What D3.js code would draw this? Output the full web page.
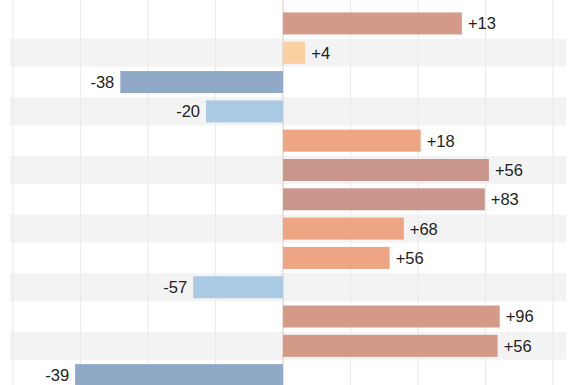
<!DOCTYPE html>
<html>
<head>
<meta charset="utf-8">
<script src="https://cdn.jsdelivr.net/npm/d3@7"></script>
<style>
html,body{margin:0;padding:0;background:#fff;}
svg{display:block;}
</style>
</head>
<body>
<svg id="chart" width="568" height="385"></svg>
<script>
// Data
const rows = [0,1,2,3,4,5,6,7,8,9,10,11,12];
const barValues = [26.5, 3.3, -24.1, -11.4, 20.4, 30.5, 29.9, 17.9, 15.8, -13.3, 32.1, 31.8, -30.8];
const labels = ["+13","+4","-38","-20","+18","+56","+83","+68","+56","-57","+96","+56","-39"];
const colorGroups = ["darkRed","pale","darkBlue","lightBlue","orange","brown","brown","orange","orange","lightBlue","darkRed","darkRed","darkBlue"];
const gridTicks = [-40,-30,-20,-10,0,10,20,30,40];

const palette = {
  darkRed: "#d39a88",
  brown: "#c9968b",
  orange: "#eea583",
  pale: "#f8d0a2",
  darkBlue: "#8fa9c7",
  lightBlue: "#aac9e2"
};

const W = 568, H = 385;
const svg = d3.select("#chart");

const x = d3.scaleLinear().domain([-40, 40]).range([13, 553]);
const y = d3.scaleBand().domain(rows).range([8.8, 389.8]).paddingInner(0).paddingOuter(0);
const step = y.bandwidth();

// stripes
svg.append("g").selectAll("rect")
  .data(rows.filter(r => r % 2 === 1))
  .join("rect")
  .attr("x", 10)
  .attr("width", 556)
  .attr("y", r => y(r) + step/2 - 14)
  .attr("height", 28)
  .attr("fill", "#f3f3f3");

// gridlines
svg.append("g").selectAll("line")
  .data(gridTicks.filter(t => t !== 0))
  .join("line")
  .attr("x1", d => x(d)).attr("x2", d => x(d))
  .attr("y1", 0).attr("y2", H)
  .attr("stroke", "#ebebeb")
  .attr("stroke-width", 1.2);

// zero line
svg.append("line")
  .attr("x1", x(0)).attr("x2", x(0))
  .attr("y1", 0).attr("y2", H)
  .attr("stroke", "#e2c6bc")
  .attr("stroke-width", 1);

// bars
const barH = 22;
svg.append("g").selectAll("rect")
  .data(rows)
  .join("rect")
  .attr("x", i => x(Math.min(0, barValues[i])))
  .attr("width", i => Math.abs(x(barValues[i]) - x(0)))
  .attr("y", i => y(i) + step/2 - barH/2)
  .attr("height", barH)
  .attr("fill", i => palette[colorGroups[i]]);

// labels
svg.append("g").selectAll("text")
  .data(rows)
  .join("text")
  .attr("x", i => barValues[i] >= 0 ? x(barValues[i]) + 6 : x(barValues[i]) - 6)
  .attr("y", i => y(i) + step/2)
  .attr("dy", "0.36em")
  .attr("text-anchor", i => barValues[i] >= 0 ? "start" : "end")
  .attr("font-family", "'Liberation Sans', Arial, sans-serif")
  .attr("font-size", 16.5)
  .attr("fill", "#222")
  .text(i => labels[i]);
</script>
</body>
</html>
